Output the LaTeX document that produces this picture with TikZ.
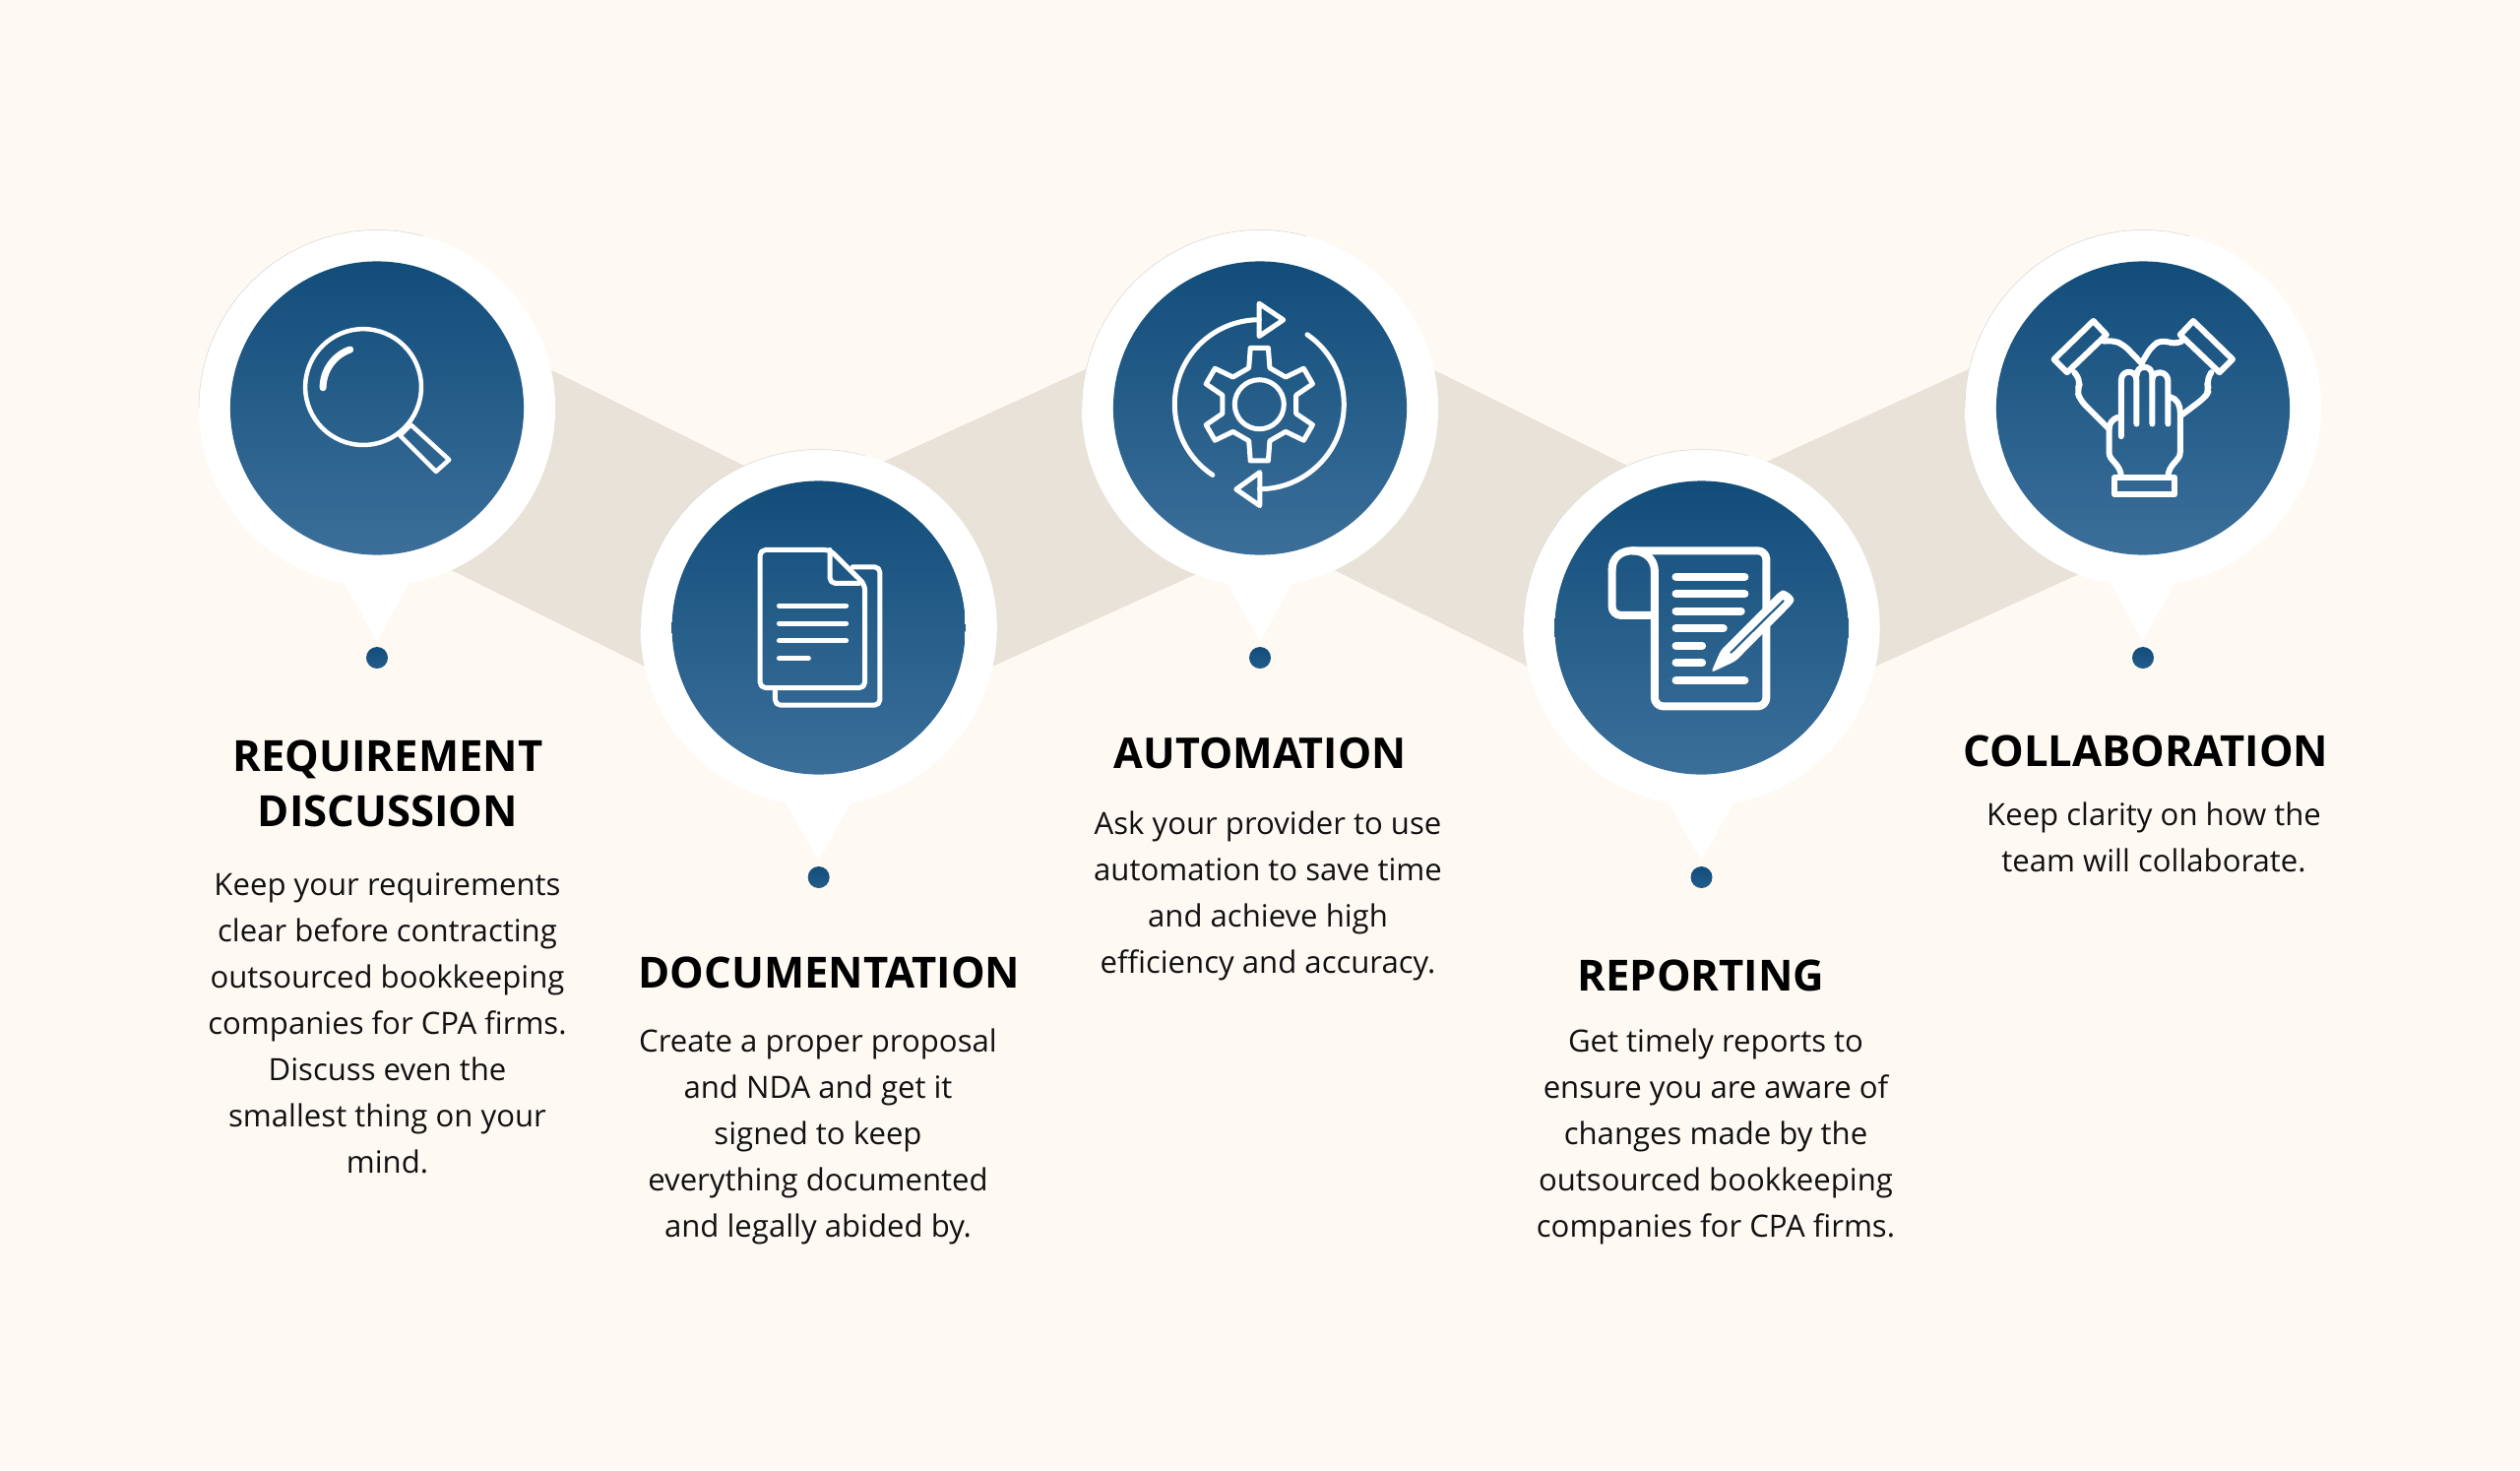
\documentclass[tikz,border=0pt]{standalone}
\usepackage{fontspec}
\setmainfont{Open Sans}
\usetikzlibrary{calc}
\definecolor{bgc}{HTML}{FEF9F3}
\definecolor{bandc}{HTML}{E8E2D9}
\definecolor{blueT}{HTML}{124D7A}
\definecolor{blueB}{HTML}{3B6F9A}
\definecolor{slitc}{HTML}{235C8A}
\definecolor{txtc}{HTML}{111111}
\definecolor{hairc}{HTML}{D9D6D0}
\tikzset{
  x=0.01cm,y=-0.01cm,
  ic/.style={draw=white,line width=#1*0.2845pt,line join=round,line cap=round},
  zm/.style={x=0.0033333cm,y=-0.0033333cm},
  halo/.style={circle,fill=white,minimum size=3.62cm,inner sep=0pt},
  disc/.style={circle,top color=blueT,bottom color=blueB,minimum size=2.98cm,inner sep=0pt},
  dotn/.style={circle,top color=blueT,bottom color=slitc,minimum size=0.22cm,inner sep=0pt},
  bandf/.style={fill=bandc},
  head/.style={font=\fontsize{12.4}{15.8}\selectfont\bfseries,text=black,align=center,inner sep=0pt},
  body/.style={font=\fontsize{8.85}{13.37}\selectfont,text=txtc,align=center,inner sep=0pt},
}
\begin{document}
\begin{tikzpicture}
\useasboundingbox (0,0) rectangle (2560,1493);
\fill[bgc] (0,0) rectangle (2560,1493);
% bands
\foreach \d in {0,897}{
  \begin{scope}[shift={(\d,0)}]
    \fill[bandf] (383,288) -- (831.7,510.5) -- (831.7,764.5) -- (383,541.5) -- cycle;
    \fill[bandf] (831.7,499) -- (1280,294) -- (1280,553.7) -- (831.7,756.7) -- cycle;
  \end{scope}
}
% pins
\foreach \i/\x/\y in {1/383/414.5,2/831.7/637.5,3/1280/414.5,4/1728.5/637.5,5/2177/414.5}{
  \node[halo] (halo\i) at (\x,\y) {};
  \draw[hairc,line width=0.15pt] ($(\x,\y)+(-181,0)$) arc[start angle=180,end angle=285,radius=181];
  \fill[white] ($(\x,\y)+(-37,172)$) -- ($(\x,\y)+(0,237)$) -- ($(\x,\y)+(37,170)$) -- cycle;
  \node[disc] (disc\i) at (\x,\y) {};
  \node[dotn] (dot\i) at ($(\x,\y)+(0,253.5)$) {};
}
% magnifier
\begin{scope}[shift={(190,220)},zm]
  \draw[ic=4.5] (538,520) circle (177);
  \draw[ic=4.5] (650,668) -- (683,635) -- (800,742) -- (760,778) -- cycle;
  \draw[ic=7] (415,522) arc[start angle=180,end angle=251,radius=123];
\end{scope}
% documents
\begin{scope}[shift={(640,440)},zm]
  \draw[ic=5,rounded corners=1.6pt] (680,408) -- (763,408) -- (763,830) -- (443,830) -- (443,778);
  \draw[ic=5,rounded corners=1.6pt] (397,356) -- (610,356) -- (717,462) -- (717,777) -- (397,777) -- cycle;
  \draw[ic=5,rounded corners=1.6pt] (610,356) -- (610,458) -- (700,458);
  \foreach \yy/\xe in {526/660,580/660,633/660,687/545}
    \draw[ic=5] (455,\yy) -- (\xe,\yy);
\end{scope}
% gear and arrows
\begin{scope}[shift={(1279.3,410.7)}]
  \draw[ic=5] (0,0) circle (25);
  \draw[ic=5] (99:58)
    \foreach \a in {90,30,-30,-90,-150,-210}{
      -- (\a+9:58) -- (\a-9:58) -- (\a-16:38.5) -- (\a-44:38.5) -- (\a-51:58)
    } -- cycle;
  \draw[ic=5] (270:86) arc[start angle=270,end angle=123.5,radius=86];
  \draw[ic=5] (90:86) arc[start angle=90,end angle=-55.5,radius=86];
\end{scope}
\begin{scope}[shift={(1130,260)},zm]
  \draw[ic=5] (448,145) -- (448,245) -- (522,195) -- cycle;
  \draw[ic=5] (450,660) -- (450,762) -- (378,712) -- cycle;
\end{scope}
% report
\begin{scope}[shift={(1600,530)},zm]
  \draw[ic=8,rounded corners=2.5pt] (243,285) -- (113,285) -- (113,145);
  \draw[ic=8] (113,145) .. controls (113,110) and (140,88) .. (175,88);
  \draw[ic=8] (243,285) -- (243,150) .. controls (243,115) and (215,88) .. (175,88);
  \draw[ic=8,rounded corners=2.5pt] (175,88) -- (584,88) -- (584,563) -- (243,563) -- (243,280);
  \foreach \yy/\xe in {168/518,220/518,272/507,325/453,378/388,430/388,484/518}
    \draw[ic=8] (308,\yy) -- (\xe,\yy);
  \fill[white,rounded corners=1pt] (415,460) -- (445,392) -- (622,215) .. controls (640,205) and (675,230) .. (662,252) -- (490,425) -- cycle;
  \draw[slitc,line width=0.6pt] (475,400) -- (637,240);
\end{scope}
% hands
\begin{scope}[shift={(2050,300)},zm]
  \draw[ic=6] (110,195) -- (230,78) -- (270,120) -- (150,235) -- cycle;
  \draw[ic=6] (655,195) -- (535,78) -- (495,120) -- (615,235) -- cycle;
  \draw[ic=6,rounded corners=2pt] (262,140) -- (290,137) -- (322,150) -- (378,208);
  \draw[ic=6,rounded corners=2pt] (172,235) -- (192,262) -- (180,290) -- (190,320) -- (278,408);
  \draw[ic=6,rounded corners=2pt] (500,140) -- (478,150) -- (440,135) -- (408,155) -- (378,205);
  \draw[ic=6,rounded corners=2pt] (590,235) -- (575,262) -- (584,290) -- (570,312) -- (500,365);
  \draw[ic=6] (315,430) -- (315,260) .. controls (315,225) and (362,225) .. (362,260) -- (362,392);
  \draw[ic=6] (362,245) .. controls (362,210) and (410,210) .. (410,245) -- (410,392);
  \draw[ic=6] (410,255) .. controls (412,228) and (458,228) .. (458,262) -- (458,392);
  \draw[ic=6] (465,310) .. controls (485,315) and (495,335) .. (495,355) -- (495,480) .. controls (495,505) and (458,515) .. (458,555);
  \draw[ic=6] (305,372) .. controls (288,378) and (278,390) .. (278,410) -- (278,480) .. controls (278,505) and (315,515) .. (315,555);
  \draw[ic=6] (295,555) rectangle (478,608);
\end{scope}
% headings
\node[head] (h1) at (394,796) {REQUIREMENT\\DISCUSSION};
\node[head] (h2) at (842.5,988) {DOCUMENTATION};
\node[head,font=\fontsize{12.25}{15.8}\selectfont\bfseries] (h3) at (1280,765.5) {AUTOMATION};
\node[head] (h4) at (1728,991) {REPORTING};
\node[head] (h5) at (2180,762.5) {COLLABORATION};
% bodies
\node[body] (b1) at (393.5,1039) {Keep your requirements\\clear before contracting\\outsourced bookkeeping\\companies for CPA firms.\\Discuss even the\\smallest thing on your\\mind.};
\node[body] (b2) at (831,1154) {Create a proper proposal\\and NDA and get it\\signed to keep\\everything documented\\and legally abided by.};
\node[body] (b3) at (1288,910) {Ask your provider to use\\automation to save time\\and achieve high\\efficiency and accuracy.};
\node[body] (b4) at (1743,1154) {Get timely reports to\\ensure you are aware of\\changes made by the\\outsourced bookkeeping\\companies for CPA firms.};
\node[body] (b5) at (2188,850) {Keep clarity on how the\\team will collaborate.};
\end{tikzpicture}
\end{document}
